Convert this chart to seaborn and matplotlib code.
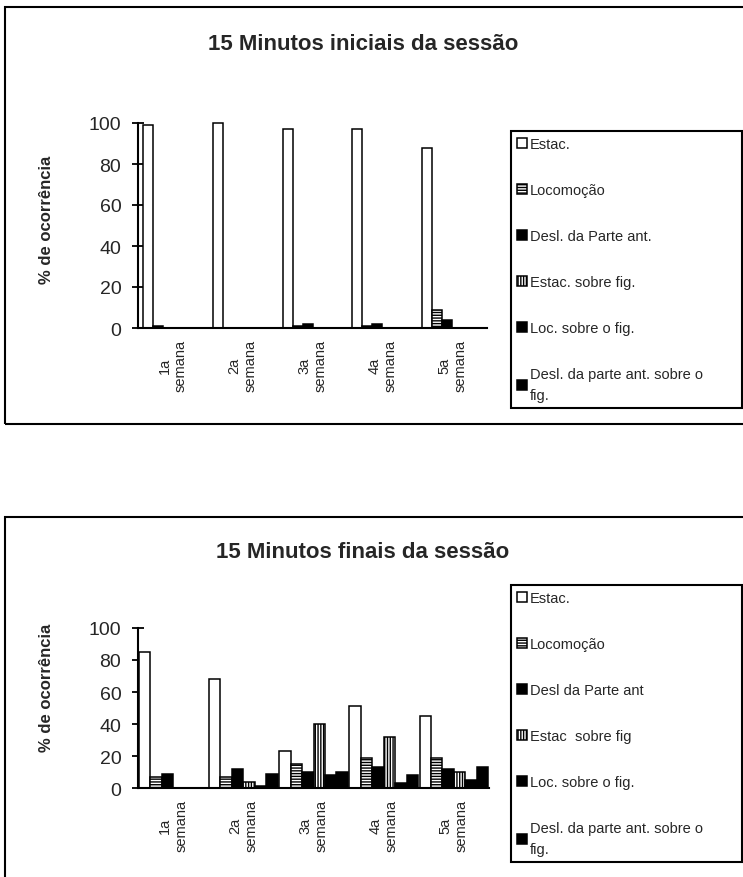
import numpy as np
import pandas as pd
import matplotlib
matplotlib.use("Agg")
import matplotlib.pyplot as plt
from matplotlib.patches import Rectangle
import seaborn as sns

# ---------------- data ----------------
semanas = ["1a", "2a", "3a", "4a", "5a"]
tick_labels = ["1a\nsemana", "2a\nsemana", "3a\nsemana", "4a\nsemana", "5a\nsemana"]
categorias = ["Estac.", "Locomoção", "Desl. da Parte ant.", "Estac. sobre fig.",
              "Loc. sobre o fig.", "Desl. da parte ant. sobre o fig."]

legenda_ini = ["Estac.", "Locomoção", "Desl. da Parte ant.", "Estac. sobre fig.",
               "Loc. sobre o fig.", "Desl. da parte ant. sobre o\nfig."]
legenda_fin = ["Estac.", "Locomoção", "Desl da Parte ant", "Estac  sobre fig",
               "Loc. sobre o fig.", "Desl. da parte ant. sobre o\nfig."]

# 15 minutos iniciais
ini_estac = [99, 100, 97, 97, 88]
ini_locom = [1, 0, 1, 1, 9]
ini_desl = [0, 0, 2, 2, 4]
ini_estac_fig = [0, 0, 0, 0, 0]
ini_loc_fig = [0, 0, 0, 0, 0]
ini_desl_fig = [0, 0, 0, 0, 0]

# 15 minutos finais
fin_estac = [85, 68, 23, 51, 45]
fin_locom = [7, 7, 15, 19, 19]
fin_desl = [9, 12, 10, 13, 12]
fin_estac_fig = [0, 4, 40, 32, 10]
fin_loc_fig = [0, 1.5, 8, 3, 5]
fin_desl_fig = [0, 9, 10, 8, 13]

titulo_ini = "15 Minutos iniciais da sessão"
titulo_fin = "15 Minutos finais da sessão"
ylabel = "% de ocorrência"
yticks = [0, 20, 40, 60, 80, 100]


def long_df(series):
    rows = []
    for cat, vals in zip(categorias, series):
        for s, v in zip(semanas, vals):
            rows.append({"semana": s, "cat": cat, "pct": v})
    return pd.DataFrame(rows)


df_ini = long_df([ini_estac, ini_locom, ini_desl, ini_estac_fig, ini_loc_fig, ini_desl_fig])
df_fin = long_df([fin_estac, fin_locom, fin_desl, fin_estac_fig, fin_loc_fig, fin_desl_fig])

# ---------------- style ----------------
sns.set_style("white")
plt.rcParams["font.family"] = ["Liberation Sans", "DejaVu Sans"]
plt.rcParams["hatch.linewidth"] = 1.0

palette = {categorias[0]: "white", categorias[1]: "white", categorias[2]: "black",
           categorias[3]: "white", categorias[4]: "black", categorias[5]: "black"}
hatches = [None, "------", None, "||||||", None, None]

W, H = 743, 878
fig = plt.figure(figsize=(W / 100, H / 100), dpi=100)
fig.patch.set_facecolor("white")


def fx(px):
    return px / W


def fy(py):
    return 1 - py / H


def panel(df, ax_rect, width, title, title_y, legend_labels, leg_top, ylab_y):
    ax = fig.add_axes(ax_rect)
    sns.barplot(data=df, x="semana", y="pct", hue="cat", order=semanas,
                hue_order=categorias, palette=palette, saturation=1,
                edgecolor="black", linewidth=1.1, width=width, gap=0,
                errorbar=None, legend=False, ax=ax)
    for cont, h in zip(ax.containers, hatches):
        for p in cont:
            p.set_edgecolor("black")
            if h:
                p.set_hatch(h)
            p.set_clip_on(False)
    ax.set_xlim(-0.5, 4.5)
    ax.set_ylim(0, 100)
    ax.set_yticks(yticks)
    ax.set_xticks(range(5))
    ax.set_xticklabels(tick_labels, rotation=90, fontsize=10.5,
                       multialignment="center", va="top")
    ax.set_xticks(np.arange(-0.5, 5, 1.0), minor=True)
    ax.tick_params(axis="x", which="major", length=0, pad=8)
    ax.tick_params(axis="x", which="minor", direction="inout", length=9, width=1.3,
                   color="black")
    ax.tick_params(axis="y", direction="inout", length=8, width=1.3, color="black",
                   labelsize=14, pad=8, left=True)
    ax.set_xlabel("")
    ax.set_ylabel(ylabel, fontsize=12, fontweight="bold")
    ax.yaxis.set_label_coords(-0.24, ylab_y)
    sns.despine(ax=ax, top=True, right=True)
    for s in ("left", "bottom"):
        ax.spines[s].set_linewidth(1.5)
        ax.spines[s].set_color("black")
    ax.set_facecolor("none")

    fig.text(fx(363), fy(title_y), title, ha="center", va="center", fontsize=16,
             fontweight="bold")

    leg = fig.legend(ax.containers, legend_labels, loc="upper left",
                     bbox_to_anchor=(fx(511), fy(leg_top) - 0.3, fx(742) - fx(511), 0.3),
                     bbox_transform=fig.transFigure, mode="expand", borderaxespad=0,
                     fontsize=10.5, frameon=True, fancybox=False, shadow=False,
                     framealpha=1, edgecolor="black", handlelength=0.7,
                     handleheight=0.7, handletextpad=0.2, labelspacing=2.2,
                     borderpad=0.4)
    for t in leg.get_texts():
        t.set_linespacing(1.6)
    leg.get_frame().set_linewidth(1.5)
    return ax


ax1 = panel(df_ini, [fx(138), fy(329), fx(487) - fx(138), (329 - 124) / H], 6 / 7,
            titulo_ini, 45, legenda_ini, 132, 0.53)
ax2 = panel(df_fin, [fx(138), fy(789), fx(489) - fx(138), (789 - 629) / H], 0.98,
            titulo_fin, 553, legenda_fin, 586, 0.63)

# panel frames
fig.patches.append(Rectangle((fx(5), fy(425)), 1.2, fy(8) - fy(425), fill=False,
                             edgecolor="black", linewidth=1.5,
                             transform=fig.transFigure, figure=fig))
fig.patches.append(Rectangle((fx(5), -0.2), 1.2, fy(518) + 0.2, fill=False,
                             edgecolor="black", linewidth=1.5,
                             transform=fig.transFigure, figure=fig))

fig.savefig("out.png", dpi=100, facecolor="white")
